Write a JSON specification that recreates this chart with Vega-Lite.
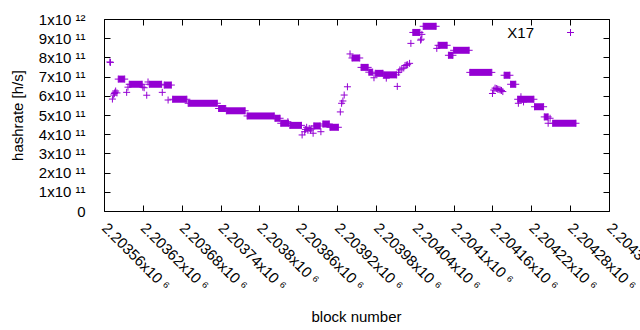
{
  "$schema": "https://vega.github.io/schema/vega-lite/v6.json",
  "width": 505,
  "height": 192,
  "autosize": {"type": "none"},
  "padding": {"left": 104, "top": 19, "right": 31, "bottom": 119},
  "background": "white",
  "config": {
    "view": {"stroke": "black", "strokeWidth": 1},
    "font": "Liberation Sans",
    "axis": {"grid": false, "domain": false, "tickColor": "black", "tickSize": -6, "labelColor": "black", "labelFontSize": 15, "titleFontSize": 15, "titleFontWeight": "normal", "titleColor": "black", "labelOverlap": false, "labelBound": false, "labelFlush": false}
  },
  "datasets": {
    "runs": [
      {"s": 2203582, "e": 2203592, "h": 6.87e11},
      {"s": 2203599, "e": 2203619, "h": 6.6e11},
      {"s": 2203630, "e": 2203649, "h": 6.6e11},
      {"s": 2203653, "e": 2203664, "h": 6.56e11},
      {"s": 2203666, "e": 2203688, "h": 5.82e11},
      {"s": 2203690, "e": 2203735, "h": 5.61e11},
      {"s": 2203737, "e": 2203748, "h": 5.34e11},
      {"s": 2203749, "e": 2203778, "h": 5.22e11},
      {"s": 2203781, "e": 2203823, "h": 4.95e11},
      {"s": 2203824, "e": 2203832, "h": 4.83e11},
      {"s": 2203833, "e": 2203845, "h": 4.57e11},
      {"s": 2203847, "e": 2203865, "h": 4.46e11},
      {"s": 2203884, "e": 2203894, "h": 4.43e11},
      {"s": 2203898, "e": 2203908, "h": 4.53e11},
      {"s": 2203909, "e": 2203922, "h": 4.36e11},
      {"s": 2203943, "e": 2203955, "h": 7.97e11},
      {"s": 2203957, "e": 2203968, "h": 7.48e11},
      {"s": 2203969, "e": 2203975, "h": 7.23e11},
      {"s": 2203979, "e": 2203991, "h": 7.17e11},
      {"s": 2203992, "e": 2204012, "h": 7.09e11},
      {"s": 2204037, "e": 2204048, "h": 9.3e11},
      {"s": 2204053, "e": 2204073, "h": 9.62e11},
      {"s": 2204076, "e": 2204090, "h": 8.63e11},
      {"s": 2204092, "e": 2204099, "h": 8.11e11},
      {"s": 2204100, "e": 2204124, "h": 8.37e11},
      {"s": 2204125, "e": 2204159, "h": 7.22e11},
      {"s": 2204178, "e": 2204187, "h": 7.07e11},
      {"s": 2204188, "e": 2204196, "h": 6.6e11},
      {"s": 2204199, "e": 2204224, "h": 5.82e11},
      {"s": 2204225, "e": 2204239, "h": 5.43e11},
      {"s": 2204240, "e": 2204246, "h": 4.9e11},
      {"s": 2204253, "e": 2204289, "h": 4.57e11}
    ],
    "pts": [
      {"b": 2203569, "h": 7.76e11},
      {"b": 2203570, "h": 7.74e11},
      {"b": 2203573, "h": 5.83e11},
      {"b": 2203575, "h": 6.04e11},
      {"b": 2203576, "h": 6.12e11},
      {"b": 2203577, "h": 6.18e11},
      {"b": 2203578, "h": 6.25e11},
      {"b": 2203580, "h": 6.15e11},
      {"b": 2203595, "h": 6.18e11},
      {"b": 2203597, "h": 6.45e11},
      {"b": 2203620, "h": 6.45e11},
      {"b": 2203622, "h": 6.42e11},
      {"b": 2203626, "h": 6.03e11},
      {"b": 2203628, "h": 6.72e11},
      {"b": 2203650, "h": 6.18e11},
      {"b": 2203659, "h": 5.78e11},
      {"b": 2203844, "h": 4.65e11},
      {"b": 2203866, "h": 3.96e11},
      {"b": 2203870, "h": 4.13e11},
      {"b": 2203871, "h": 4.25e11},
      {"b": 2203873, "h": 4.36e11},
      {"b": 2203875, "h": 4.2e11},
      {"b": 2203877, "h": 4.3e11},
      {"b": 2203879, "h": 4.22e11},
      {"b": 2203881, "h": 4.28e11},
      {"b": 2203883, "h": 4.05e11},
      {"b": 2203895, "h": 4.13e11},
      {"b": 2203925, "h": 5.16e11},
      {"b": 2203927, "h": 5.61e11},
      {"b": 2203929, "h": 5.73e11},
      {"b": 2203931, "h": 6.04e11},
      {"b": 2203936, "h": 6.47e11},
      {"b": 2203940, "h": 8.18e11},
      {"b": 2203977, "h": 6.94e11},
      {"b": 2203996, "h": 6.92e11},
      {"b": 2204013, "h": 6.49e11},
      {"b": 2204015, "h": 7.22e11},
      {"b": 2204017, "h": 7.35e11},
      {"b": 2204020, "h": 7.4e11},
      {"b": 2204023, "h": 7.45e11},
      {"b": 2204025, "h": 7.58e11},
      {"b": 2204027, "h": 7.6e11},
      {"b": 2204029, "h": 7.62e11},
      {"b": 2204032, "h": 7.69e11},
      {"b": 2204034, "h": 8.73e11},
      {"b": 2204049, "h": 8.9e11},
      {"b": 2204050, "h": 8.95e11},
      {"b": 2204051, "h": 9.2e11},
      {"b": 2204074, "h": 8.47e11},
      {"b": 2204160, "h": 6.12e11},
      {"b": 2204162, "h": 6.3e11},
      {"b": 2204164, "h": 6.4e11},
      {"b": 2204166, "h": 6.38e11},
      {"b": 2204168, "h": 6.35e11},
      {"b": 2204170, "h": 6.33e11},
      {"b": 2204172, "h": 6.3e11},
      {"b": 2204174, "h": 6.28e11},
      {"b": 2204176, "h": 6.22e11},
      {"b": 2204200, "h": 5.61e11},
      {"b": 2204204, "h": 5.95e11},
      {"b": 2204208, "h": 5.68e11},
      {"b": 2204246, "h": 4.57e11},
      {"b": 2204249, "h": 4.83e11}
    ]
  },
  "layer": [
    {
      "data": {"name": "runs"},
      "mark": {"type": "rule", "strokeWidth": 7, "color": "#9400d3", "strokeCap": "butt"},
      "encoding": {
        "x": {
          "field": "s", "type": "quantitative",
          "scale": {"domain": [2203560, 2204340], "nice": false, "zero": false},
          "axis": {
            "orient": "bottom",
            "values": [2203560, 2203620, 2203680, 2203740, 2203800, 2203860, 2203920, 2203980, 2204040, 2204100, 2204160, 2204220, 2204280, 2204340],
            "labelExpr": "format(datum.value/1000000,'.6~g')+'x10 ⁶'",
            "labelAngle": 45,
            "labelAlign": "left",
            "labelBaseline": "middle",
            "labelPadding": 20,
            "title": "block number",
            "titleX": 252,
            "titleY": 105,
            "titleBaseline": "middle",
            "titleAlign": "center"
          }
        },
        "x2": {"field": "e"},
        "y": {
          "field": "h", "type": "quantitative",
          "scale": {"domain": [0, 1000000000000], "nice": false, "zero": true},
          "axis": {
            "orient": "left",
            "values": [0, 100000000000, 200000000000, 300000000000, 400000000000, 500000000000, 600000000000, 700000000000, 800000000000, 900000000000, 1000000000000],
            "labelExpr": "datum.value==0 ? '0' : (datum.value>=1e12 ? '1x10 ¹²' : format(datum.value/1e11,'d')+'x10 ¹¹')",
            "labelPadding": 25,
            "title": "hashrate [h/s]",
            "titleX": -87,
            "titleY": 96,
            "titleAngle": -90,
            "titleBaseline": "middle",
            "titleAlign": "center"
          }
        }
      }
    },
    {
      "data": {"name": "runs"},
      "mark": {"type": "point", "shape": "M-1,0H1M0,-1V1", "size": 49, "filled": false, "strokeWidth": 1, "color": "#9400d3", "opacity": 1},
      "encoding": {
        "x": {
          "field": "s", "type": "quantitative",
          "axis": {"orient": "top", "labels": false, "title": null,
            "values": [2203560, 2203620, 2203680, 2203740, 2203800, 2203860, 2203920, 2203980, 2204040, 2204100, 2204160, 2204220, 2204280, 2204340]}
        },
        "y": {
          "field": "h", "type": "quantitative",
          "axis": {"orient": "right", "labels": false, "title": null,
            "values": [0, 100000000000, 200000000000, 300000000000, 400000000000, 500000000000, 600000000000, 700000000000, 800000000000, 900000000000, 1000000000000]}
        }
      }
    },
    {
      "data": {"name": "runs"},
      "mark": {"type": "point", "shape": "M-1,0H1M0,-1V1", "size": 49, "filled": false, "strokeWidth": 1, "color": "#9400d3", "opacity": 1},
      "encoding": {
        "x": {"field": "e", "type": "quantitative", "axis": null},
        "y": {"field": "h", "type": "quantitative", "axis": null}
      }
    },
    {
      "data": {"name": "pts"},
      "mark": {"type": "point", "shape": "M-1,0H1M0,-1V1", "size": 49, "filled": false, "strokeWidth": 1, "opacity": 1},
      "encoding": {
        "x": {"field": "b", "type": "quantitative", "axis": null},
        "y": {"field": "h", "type": "quantitative", "axis": null},
        "color": {
          "datum": "X17", "type": "nominal",
          "scale": {"range": ["#9400d3"]},
          "legend": {
            "orient": "none", "legendX": 459, "legendY": 6, "title": null, "padding": 0,
            "symbolType": "M-1,0H1M0,-1V1", "symbolSize": 49, "symbolStrokeWidth": 1,
            "labelFontSize": 15, "labelColor": "black", "labelAlign": "right", "labelOffset": -44
          }
        }
      }
    }
  ],
  "resolve": {"axis": {"x": "independent", "y": "independent"}}
}
